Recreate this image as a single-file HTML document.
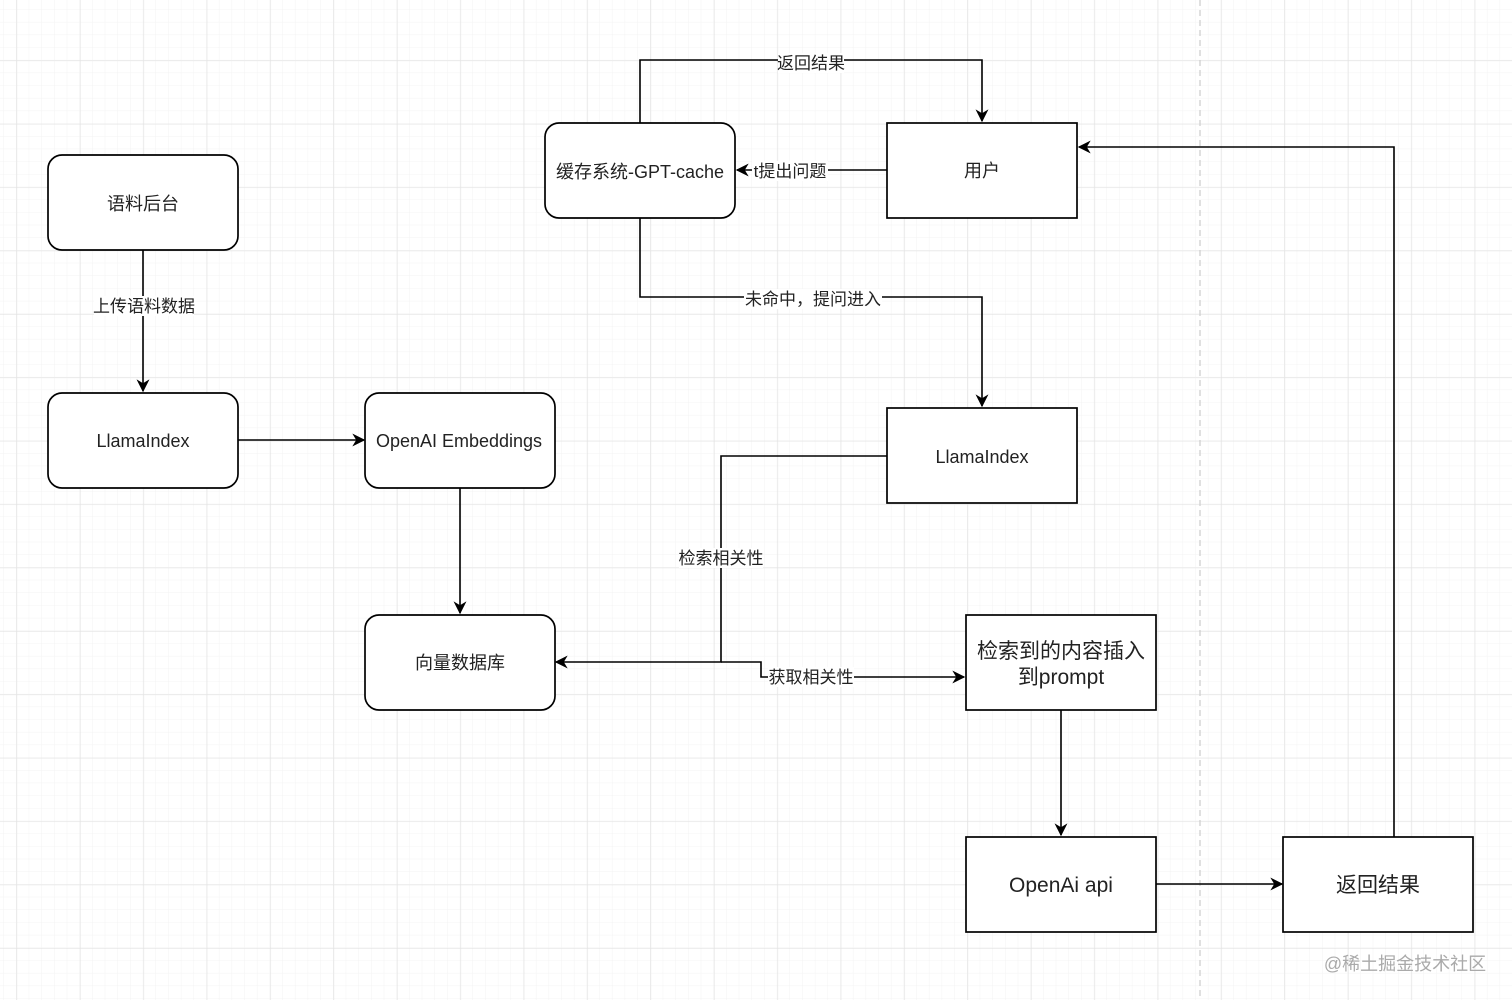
<!DOCTYPE html>
<html><head><meta charset="utf-8"><style>
html,body{margin:0;padding:0;background:#fff;}
svg{display:block;}
text{font-family:"Liberation Sans","Noto Sans CJK SC",sans-serif;fill:#222;}
</style></head><body>
<svg width="1512" height="1000" viewBox="0 0 1512 1000" xmlns="http://www.w3.org/2000/svg">
<defs>
<pattern id="minor" x="16.5" y="-3" width="12.68" height="12.68" patternUnits="userSpaceOnUse">
<path d="M12.68 0V12.68M0 12.68H12.68" stroke="#f3f3f3" stroke-width="1" fill="none"/>
</pattern>
<pattern id="major" x="16.5" y="-3" width="63.4" height="63.4" patternUnits="userSpaceOnUse">
<path d="M0 0V63.4M0 0H63.4" stroke="#e3e3e3" stroke-width="1.3" fill="none"/>
</pattern>
<marker id="ar" viewBox="0 0 10 10" refX="9" refY="5" markerWidth="13" markerHeight="13" orient="auto" markerUnits="userSpaceOnUse">
<path d="M0 0L10 5L0 10L3 5Z" fill="#000"/>
</marker>
</defs>
<rect width="1512" height="1000" fill="url(#minor)"/>
<rect width="1512" height="1000" fill="url(#major)"/>
<line x1="1200" y1="0" x2="1200" y2="1000" stroke="#ccc" stroke-width="1.2" stroke-dasharray="6,4"/>

<g fill="#fff" stroke="#000" stroke-width="1.7">
<rect x="48" y="155" width="190" height="95" rx="14"/>
<rect x="48" y="393" width="190" height="95" rx="14"/>
<rect x="365" y="393" width="190" height="95" rx="14"/>
<rect x="365" y="615" width="190" height="95" rx="14"/>
<rect x="545" y="123" width="190" height="95" rx="14"/>
<rect x="887" y="123" width="190" height="95"/>
<rect x="887" y="408" width="190" height="95"/>
<rect x="966" y="615" width="190" height="95"/>
<rect x="966" y="837" width="190" height="95"/>
<rect x="1283" y="837" width="190" height="95"/>
</g>

<g stroke="#000" stroke-width="1.6" fill="none">
<path d="M143 250V391" marker-end="url(#ar)"/>
<path d="M238 440H364" marker-end="url(#ar)"/>
<path d="M460 488V613" marker-end="url(#ar)"/>
<path d="M640 123V60H982V121" marker-end="url(#ar)"/>
<path d="M887 170H737" marker-end="url(#ar)"/>
<path d="M640 218V297H982V406" marker-end="url(#ar)"/>
<path d="M887 456H721V662H556" marker-end="url(#ar)"/>
<path d="M721 662H761V677H964" marker-end="url(#ar)"/>
<path d="M1061 710V835" marker-end="url(#ar)"/>
<path d="M1156 884H1282" marker-end="url(#ar)"/>
<path d="M1394 837V147H1079" marker-end="url(#ar)"/>
</g>

<g fill="#fff">
<rect x="94" y="296" width="100" height="20"/>
<rect x="778" y="53" width="66" height="20"/>
<rect x="752" y="161" width="76" height="20"/>
<rect x="744" y="289" width="138" height="20"/>
<rect x="679" y="548" width="84" height="20"/>
<rect x="768" y="667" width="86" height="20"/>
</g>

<g font-size="18" text-anchor="middle">
<text x="143" y="210">语料后台</text>
<text x="143" y="447">LlamaIndex</text>
<text x="459" y="447">OpenAI  Embeddings</text>
<text x="460" y="669">向量数据库</text>
<text x="640" y="178">缓存系统-GPT-cache</text>
<text x="982" y="177">用户</text>
<text x="982" y="463">LlamaIndex</text>
<text x="1061" y="658" font-size="21">检索到的内容插入</text>
<text x="1061" y="684" font-size="21">到prompt</text>
<text x="1061" y="892" font-size="21">OpenAi api</text>
<text x="1378" y="892" font-size="21">返回结果</text>
</g>
<g font-size="17" text-anchor="middle">
<text x="144" y="312">上传语料数据</text>
<text x="811" y="69">返回结果</text>
<text x="790" y="177">t提出问题</text>
<text x="813" y="305">未命中，提问进入</text>
<text x="721" y="564">检索相关性</text>
<text x="811" y="683">获取相关性</text>
</g>
<text x="1405" y="970" font-size="18" text-anchor="middle" style="fill:#aaa">@稀土掘金技术社区</text>
</svg>
</body></html>
